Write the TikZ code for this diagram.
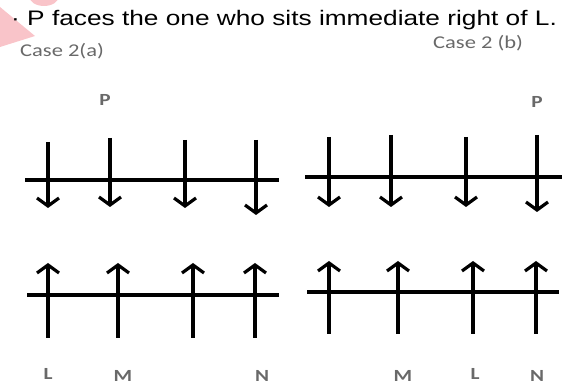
\documentclass[tikz,border=0pt]{standalone}
\usepackage{fontspec}
\setmainfont{Liberation Sans}
\newfontfamily\clueFont[FakeStretch=1.25]{Liberation Sans}
\newfontfamily\caseFont[FakeStretch=1.25]{Carlito}
\usepackage{tikz}
\usetikzlibrary{arrows.meta}
\definecolor{seatGray}{RGB}{105,105,105}
\definecolor{logoPink}{RGB}{249,196,201}

\begin{document}
\begin{tikzpicture}[x=1pt, y=-1pt, every node/.style={inner sep=0pt},
  seat/.style={line width=3.2pt, -{Straight Barb[length=8pt, width=22pt, line width=3.2pt]}},
  row/.style={line width=3.2pt},
  tag/.style={font=\caseFont\bfseries\fontsize{17}{17}\selectfont, text=seatGray},
  casetag/.style={anchor=base west, font=\caseFont\fontsize{18}{18}\selectfont, text=seatGray}]
  \useasboundingbox (0,0) rectangle (563,387);
  \fill[logoPink] (0,7) -- (35,36) -- (0,47) -- cycle;
  \fill[logoPink] (44,-4) ellipse (15 and 10);
  \node[anchor=base west, font=\clueFont\fontsize{21}{21}\selectfont] (clue) at (11,26) {· P faces the one who sits immediate right of L.};
  \node[casetag] (caseA) at (20,57) {Case 2(a)};
  \node[casetag] (caseB) at (433,49) {Case 2 (b)};
  \draw[row] (25,180) -- (279,180);
  \draw[row] (305,177) -- (562,177);
  \draw[row] (27,295) -- (279,295);
  \draw[row] (307,292) -- (559,292);
  \foreach \x/\a/\b in {48/142/208, 110/138/207, 185/140/208, 256/140/215,
                        329/137/207, 391/135/207, 466/137/207, 537/135/212}
    \draw[seat] (\x,\a) -- (\x,\b);
  \foreach \x in {48, 118, 193, 255}
    \draw[seat] (\x,338) -- (\x,263);
  \foreach \x in {329, 398, 473, 536}
    \draw[seat] (\x,334) -- (\x,261);
  \node[tag] (pA) at (105,100) {P};
  \node[tag] (pB) at (537,102) {P};
  \node[tag] (lA) at (48,374) {L};
  \node[tag] (mA) at (123,376) {M};
  \node[tag] (nA) at (262,376) {N};
  \node[tag] (mB) at (403,376) {M};
  \node[tag] (lB) at (475,374) {L};
  \node[tag] (nB) at (537,376) {N};
\end{tikzpicture}
\end{document}
